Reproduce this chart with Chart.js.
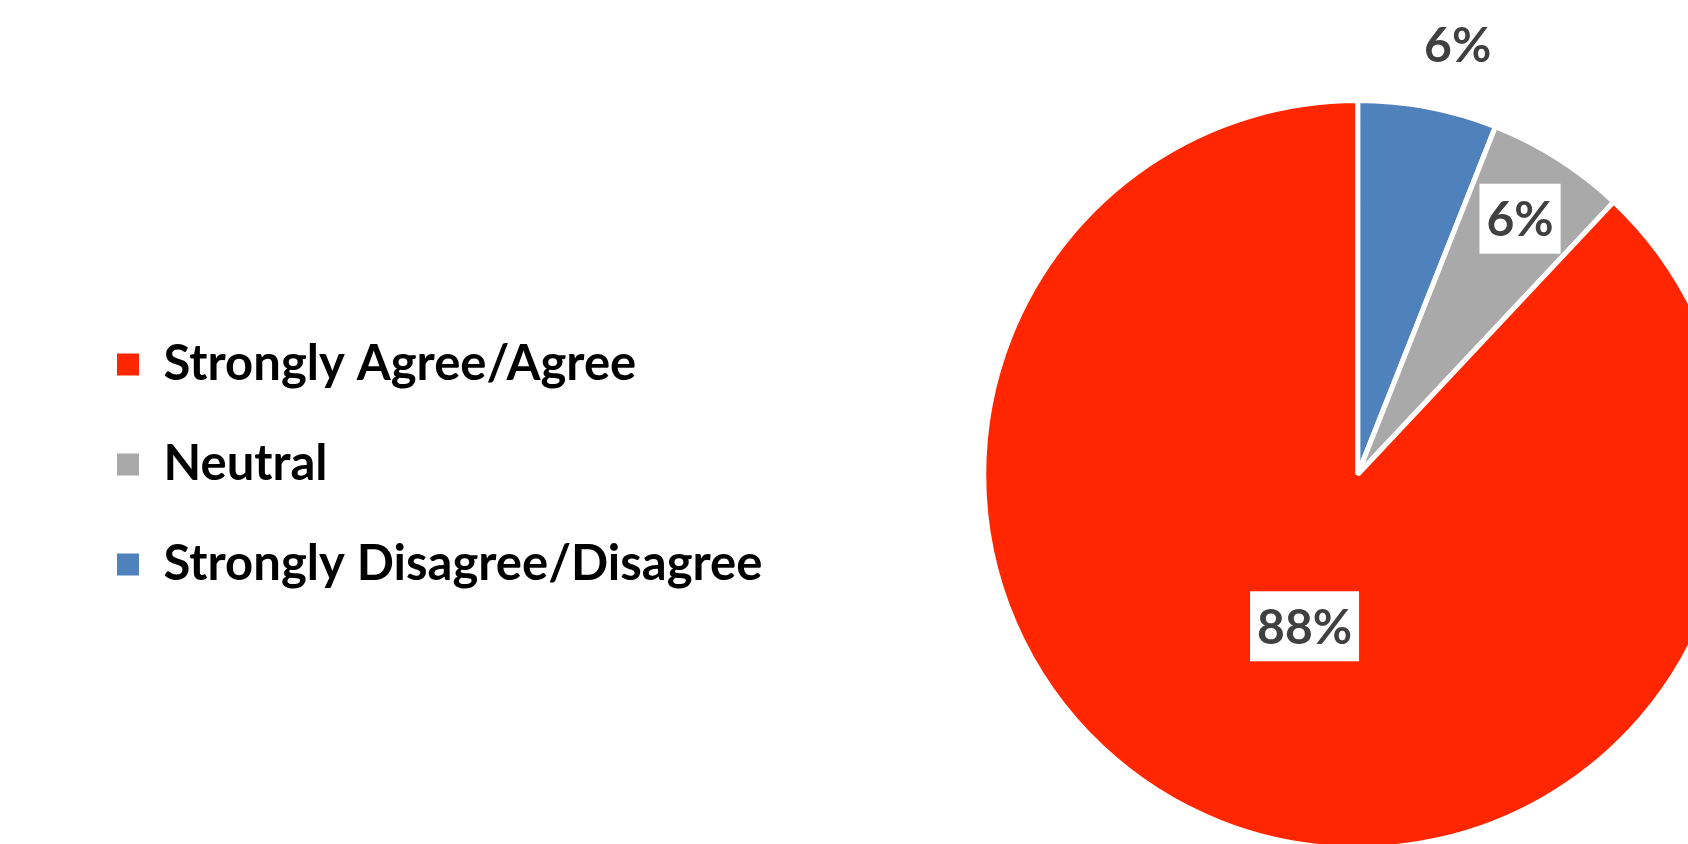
<!DOCTYPE html>
<html>
<head>
<meta charset="utf-8">
<script src="https://cdn.jsdelivr.net/npm/chart.js@4/dist/chart.umd.min.js"></script>
<style>
    html, body { margin: 0; padding: 0; background: #fff; overflow: hidden; width: 1688px; height: 844px; }
    #wrap { position: absolute; left: 0; top: 0; width: 1943px; height: 860px; }
</style>
</head>
<body>
<div id="wrap"><canvas id="opinionChart"></canvas></div>
<script>
// --- Data ---
const categories = ['Strongly Disagree/Disagree', 'Neutral', 'Strongly Agree/Agree'];
const percentages = [6, 6, 88];
const sliceColors = ['#4F81BD', '#A9A9A9', '#FF2600'];

// where each percentage label sits: fraction of the radius, and a small turn (radians)
const labelRadius = [1.18, 0.81, 0.43];
const labelTurn = [0.04, 0, -0.04];

// draw the percentage labels, with a white box when they sit on the pie
const pieLabels = {
    id: 'pieLabels',
    afterDatasetsDraw(chart) {
        const ctx = chart.ctx;
        const arcs = chart.getDatasetMeta(0).data;
        ctx.save();
        ctx.font = 'bold 48px Lato';
        ctx.textAlign = 'center';
        ctx.textBaseline = 'middle';
        arcs.forEach((arc, i) => {
            const p = arc.getProps(['x', 'y', 'startAngle', 'endAngle', 'outerRadius'], true);
            const mid = (p.startAngle + p.endAngle) / 2 + labelTurn[i];
            const r = p.outerRadius * labelRadius[i];
            const x = p.x + Math.cos(mid) * r;
            const y = p.y + Math.sin(mid) * r;
            const text = percentages[i] + '%';
            const w = ctx.measureText(text).width + 14;
            const h = 70;
            ctx.fillStyle = '#ffffff';
            ctx.fillRect(x - w / 2, y - h / 2, w, h);
            ctx.fillStyle = '#404040';
            ctx.fillText(text, x, y + 2);
        });
        ctx.restore();
    }
};

const ctx = document.getElementById('opinionChart').getContext('2d');
new Chart(ctx, {
    type: 'pie',
    data: {
        labels: categories,
        datasets: [{
            data: percentages,
            backgroundColor: sliceColors,
            borderColor: '#ffffff',
            borderWidth: 5
        }]
    },
    options: {
        responsive: true,
        maintainAspectRatio: false,
        animation: false,
        layout: {
            padding: { left: 66, top: 98, right: 0, bottom: 9 }
        },
        plugins: {
            legend: {
                position: 'left',
                align: 'start',
                reverse: true,
                // empty title only used to push the items down
                title: { display: true, text: '', font: { size: 10 }, padding: { top: 179, bottom: 0 } },
                labels: {
                    boxWidth: 22,
                    boxHeight: 22,
                    padding: 51,
                    color: '#000000',
                    font: { family: 'Lato', size: 49, weight: 'bold' },
                    generateLabels(chart) {
                        const items = Chart.overrides.pie.plugins.legend.labels.generateLabels(chart);
                        items.forEach(item => { item.lineWidth = 0; });
                        return items;
                    }
                }
            },
            tooltip: { enabled: false }
        }
    },
    plugins: [pieLabels]
});
</script>
</body>
</html>
